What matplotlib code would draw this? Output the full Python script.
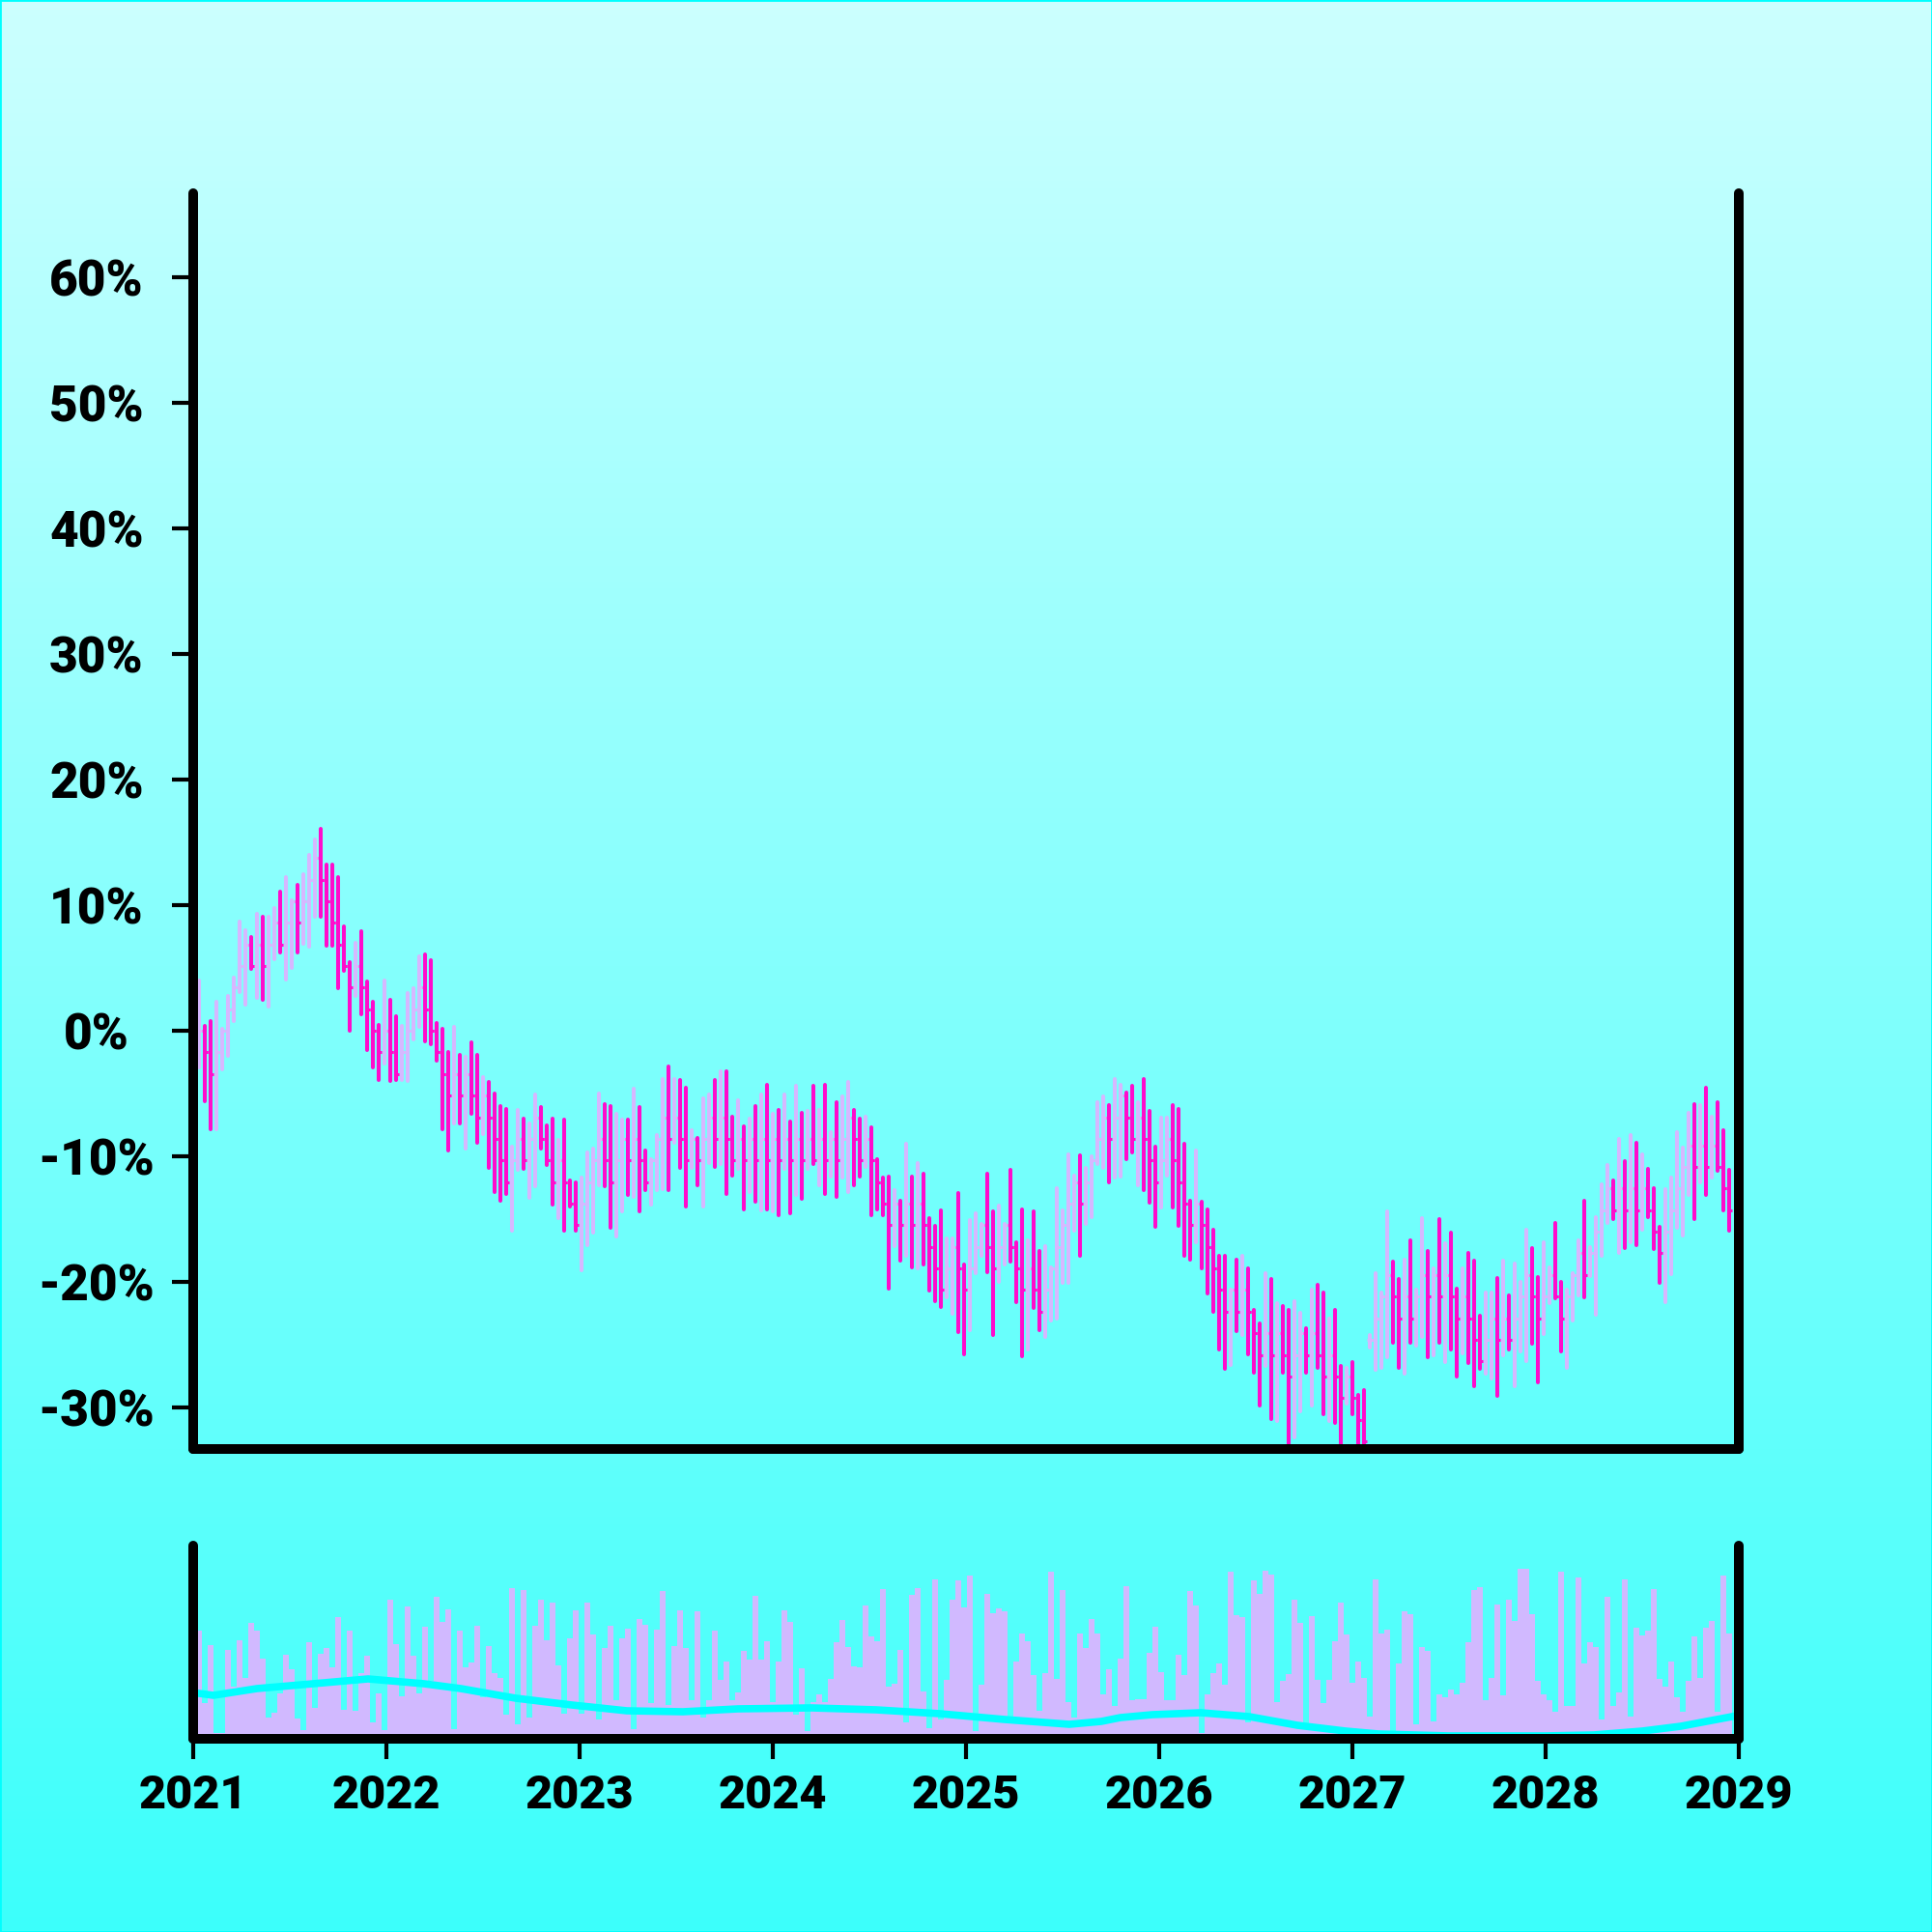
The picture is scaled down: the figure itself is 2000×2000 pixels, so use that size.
import numpy as np
import matplotlib.pyplot as plt
from matplotlib.patches import Rectangle
from matplotlib.colors import LinearSegmentedColormap

plt.rcParams['font.family'] = ['Roboto', 'Liberation Sans', 'DejaVu Sans']
plt.rcParams['font.weight'] = 'black'

# one bar roughly every 11 days (0.03 year), first one just after new year 2021
first_bar = 2021.03
bar_step = 0.03

# closes in %, open of a bar = close of the previous one (except after the gap)
closes = [
    0.00, -1.72, -3.44, -1.72, 0.00, 1.72, 3.44, 5.16, 6.88, 5.16,
    6.88, 5.16, 6.88, 8.60, 6.88, 8.60, 10.32, 8.60, 10.32, 12.04,
    13.76, 12.04, 10.32, 8.60, 6.88, 5.16, 3.44, 5.16, 3.44, 1.72,
    0.00, -1.72, 0.00, -1.72, -3.44, -1.72, 0.00, 1.72, 3.44, 1.72,
    0.00, -1.72, -3.44, -5.16, -3.44, -5.16, -3.44, -5.16, -6.88, -5.16,
    -6.88, -8.60, -10.32, -12.04, -10.32, -8.60, -10.32, -8.60, -6.88, -8.60,
    -10.32, -12.04, -10.32, -12.04, -13.76, -15.48, -13.76, -12.04, -10.32, -8.60,
    -10.32, -12.04, -10.32, -8.60, -10.32, -8.60, -10.32, -12.04, -10.32, -8.60,
    -6.88, -8.60, -6.88, -8.60, -10.32, -8.60, -10.32, -8.60, -6.88, -8.60,
    -6.88, -8.60, -10.32, -8.60, -10.32, -8.60, -10.32, -8.60, -10.32, -8.60,
    -10.32, -8.60, -10.32, -8.60, -10.32, -8.60, -10.32, -8.60, -10.32, -8.60,
    -10.32, -8.60, -6.88, -8.60, -10.32, -8.60, -10.32, -12.04, -13.76, -15.48,
    -13.76, -15.48, -13.76, -15.48, -13.76, -15.48, -17.20, -18.92, -20.64, -18.92,
    -17.20, -18.92, -20.64, -18.92, -17.20, -15.48, -17.20, -18.92, -17.20, -15.48,
    -17.20, -18.92, -20.64, -18.92, -20.64, -22.36, -20.64, -18.92, -17.20, -15.48,
    -13.76, -12.04, -13.76, -12.04, -10.32, -8.60, -6.88, -8.60, -6.88, -5.16,
    -6.88, -8.60, -6.88, -8.60, -10.32, -12.04, -10.32, -8.60, -10.32, -12.04,
    -13.76, -15.48, -13.76, -15.48, -17.20, -18.92, -20.64, -22.36, -20.64, -22.36,
    -20.64, -22.36, -24.08, -25.80, -24.08, -25.80, -24.08, -25.80, -27.52, -25.80,
    -24.08, -25.80, -24.08, -25.80, -27.52, -25.80, -27.52, -29.24, -27.52, -29.24,
    -30.96, -32.68, -24.60, -22.88, -21.16, -19.44, -21.16, -22.88, -21.16, -22.88,
    -21.16, -19.44, -21.16, -19.44, -21.16, -19.44, -21.16, -22.88, -21.16, -22.88,
    -24.60, -26.32, -24.60, -22.88, -24.60, -22.88, -24.60, -22.88, -21.16, -19.44,
    -21.16, -22.88, -21.16, -19.44, -21.16, -22.88, -21.16, -19.44, -17.72, -19.44,
    -17.72, -16.00, -14.28, -12.56, -14.28, -12.56, -14.28, -12.56, -14.28, -12.56,
    -14.28, -16.00, -17.72, -16.00, -14.28, -12.56, -10.84, -9.12, -10.84, -9.12,
    -10.84, -9.12, -10.84, -12.56, -14.28,
]
first_open = -1.72
gap_opens = {202: -24.60}

highs = [
    4.0, 0.4, 0.8, 2.3, 0.2, 2.8, 4.2, 8.7, 8.0, 7.5,
    9.3, 9.1, 9.1, 9.8, 11.1, 12.2, 10.4, 11.6, 12.5, 14.0,
    15.2, 16.1, 13.2, 13.2, 12.2, 8.3, 5.5, 7.0, 7.9, 3.9,
    2.3, 0.5, 4.0, 2.5, 1.2, 0.4, 3.0, 3.4, 5.9, 6.1,
    5.6, 0.6, 0.2, -1.7, 0.3, -1.9, -2.1, -0.9, -1.9, -3.7,
    -4.1, -5.0, -6.0, -6.2, -9.2, -6.3, -7.0, -7.4, -5.1, -6.1,
    -7.5, -7.0, -8.65, -7.1, -11.9, -12.1, -11.7, -9.7, -9.4, -5.0,
    -5.8, -6.0, -6.6, -7.1, -7.1, -4.6, -6.05, -9.5, -10.2, -8.3,
    -3.85, -2.85, -3.8, -3.9, -4.5, -7.95, -8.5, -5.4, -5.1, -3.9,
    -3.2, -3.2, -6.8, -5.5, -7.6, -7.0, -6.0, -5.1, -4.3, -6.6,
    -6.3, -5.1, -7.2, -4.4, -6.5, -6.4, -4.4, -6.3, -4.3, -8.05,
    -5.7, -5.25, -4.1, -6.3, -7.0, -6.85, -7.7, -10.2, -11.7, -11.6,
    -12.7, -13.5, -9.0, -11.6, -10.5, -11.4, -14.9, -15.5, -14.3, -16.5,
    -16.5, -12.9, -18.6, -15.1, -14.55, -15.4, -11.4, -14.4, -13.9, -15.4,
    -11.1, -16.8, -14.2, -16.7, -14.4, -17.5, -17.15, -18.8, -12.5, -14.3,
    -9.8, -11.5, -9.95, -10.9, -10.0, -5.7, -5.2, -5.95, -3.85, -4.3,
    -4.9, -4.4, -5.7, -3.8, -6.4, -9.2, -6.9, -6.9, -5.95, -6.2,
    -9.0, -13.5, -9.5, -13.6, -14.2, -15.8, -17.9, -17.95, -20.6, -18.2,
    -17.95, -18.95, -22.25, -23.3, -19.3, -19.75, -21.7, -21.95, -22.25, -21.5,
    -22.45, -23.7, -20.6, -20.2, -20.8, -22.95, -22.25, -26.7, -26.8, -26.35,
    -29.0, -28.6, -24.2, -19.3, -20.8, -14.4, -18.4, -19.75, -18.2, -16.7,
    -20.6, -14.9, -17.5, -18.95, -15.0, -16.9, -16.1, -20.5, -18.95, -17.7,
    -18.3, -22.7, -20.8, -20.8, -19.65, -18.3, -21.1, -18.5, -20.0, -15.8,
    -17.3, -19.6, -16.8, -18.8, -15.3, -20.0, -20.6, -19.3, -16.7, -13.5,
    -17.25, -14.8, -12.2, -10.7, -11.95, -8.6, -10.4, -8.3, -8.9, -9.8,
    -11.0, -12.5, -15.6, -12.6, -11.7, -8.1, -9.3, -6.5, -5.8, -5.9,
    -4.5, -6.85, -5.7, -7.95, -11.1,
]

lows = [
    -2.9, -5.6, -7.8, -7.8, -3.1, -2.0, 0.8, 3.1, 2.05, 4.9,
    2.6, 2.5, 1.9, 5.7, 6.2, 4.1, 5.0, 6.2, 6.9, 6.7,
    9.1, 9.1, 6.8, 6.8, 3.4, 4.8, 0.0, 2.8, 1.3, -1.5,
    -2.9, -3.9, -2.6, -4.0, -3.9, -3.9, -4.0, -0.7, 0.3, -0.8,
    -1.1, -2.4, -7.8, -9.5, -7.4, -7.4, -9.4, -6.6, -8.9, -8.2,
    -10.9, -12.8, -13.5, -13.0, -15.9, -11.1, -11.0, -13.3, -12.4, -9.4,
    -10.7, -13.8, -14.9, -15.9, -14.0, -15.9, -19.1, -17.1, -16.1, -12.3,
    -12.4, -15.7, -16.4, -14.4, -13.05, -13.2, -14.4, -12.7, -13.85, -12.7,
    -12.6, -12.7, -8.9, -10.9, -14.0, -10.9, -12.3, -14.0, -10.5, -10.8,
    -10.6, -13.0, -11.5, -11.0, -14.2, -12.8, -13.6, -14.3, -14.2, -14.4,
    -14.65, -11.0, -14.55, -13.1, -13.4, -11.0, -10.6, -12.3, -13.0, -11.6,
    -13.2, -11.7, -12.8, -12.3, -11.6, -10.8, -14.65, -14.2, -14.65, -20.55,
    -17.15, -18.3, -17.95, -18.8, -18.9, -18.6, -20.7, -21.5, -22.0, -21.2,
    -22.5, -24.0, -25.75, -23.8, -19.3, -17.95, -19.2, -24.25, -20.0, -18.6,
    -18.4, -21.6, -25.9, -25.4, -22.1, -23.8, -24.4, -23.05, -22.95, -20.1,
    -20.1, -15.9, -17.9, -15.4, -14.8, -10.6, -10.9, -12.05, -11.7, -11.6,
    -10.2, -9.7, -12.3, -12.7, -13.7, -15.6, -14.1, -11.5, -14.1, -15.5,
    -17.9, -18.2, -16.8, -18.95, -20.9, -22.35, -25.4, -26.95, -26.6, -23.9,
    -24.2, -25.75, -27.2, -29.8, -26.7, -30.9, -31.1, -27.2, -34.5, -32.4,
    -30.3, -27.2, -29.8, -26.8, -30.5, -31.1, -31.2, -34.5, -29.7, -30.5,
    -35.0, -35.5, -25.2, -27.0, -26.85, -26.0, -24.8, -26.8, -27.3, -24.8,
    -25.1, -24.4, -26.0, -25.8, -24.8, -26.4, -25.4, -27.5, -25.65, -26.45,
    -28.3, -26.95, -27.3, -27.7, -29.1, -25.8, -25.4, -28.3, -25.55, -26.3,
    -24.95, -28.0, -24.15, -21.7, -21.3, -25.55, -26.8, -23.05, -21.1, -21.2,
    -19.5, -22.6, -17.95, -15.3, -15.0, -17.7, -17.3, -16.8, -17.05, -15.8,
    -14.8, -17.4, -20.1, -21.6, -19.4, -15.7, -16.3, -13.1, -15.0, -12.1,
    -13.05, -11.7, -11.15, -14.3, -15.95,
]

volumes = [
    112, 37, 97, 6, 6, 92, 54, 102, 63, 120,
    112, 83, 22, 27, 47, 87, 72, 21, 9, 100,
    32, 88, 94, 74, 126, 30, 112, 29, 68, 86,
    17, 47, 9, 144, 98, 44, 137, 86, 47, 116,
    60, 147, 121, 134, 10, 112, 74, 79, 117, 43,
    96, 68, 63, 25, 156, 15, 154, 22, 117, 144,
    102, 141, 76, 26, 104, 133, 26, 141, 108, 20,
    94, 117, 40, 104, 114, 10, 124, 118, 37, 113,
    153, 35, 96, 133, 94, 40, 132, 22, 40, 112,
    61, 80, 40, 48, 91, 82, 148, 82, 101, 38,
    80, 133, 121, 25, 73, 8, 38, 46, 38, 62,
    100, 123, 95, 75, 74, 138, 106, 101, 155, 54,
    57, 92, 17, 149, 156, 49, 11, 165, 20, 61,
    144, 164, 136, 169, 8, 56, 150, 130, 135, 132,
    23, 80, 109, 101, 66, 29, 68, 173, 62, 154,
    38, 22, 109, 94, 124, 109, 46, 72, 34, 83,
    158, 40, 41, 41, 89, 116, 69, 40, 40, 87,
    66, 153, 138, 6, 46, 68, 78, 56, 173, 128,
    126, 17, 164, 150, 174, 170, 38, 60, 67, 144,
    120, 14, 127, 61, 37, 61, 101, 141, 108, 58,
    80, 63, 23, 165, 109, 113, 5, 78, 132, 129,
    15, 95, 91, 18, 46, 43, 51, 46, 58, 100,
    154, 157, 40, 63, 139, 45, 144, 122, 176, 176,
    129, 60, 46, 40, 28, 173, 34, 34, 167, 78,
    100, 95, 20, 147, 34, 48, 165, 23, 115, 107,
    112, 155, 62, 54, 80, 43, 28, 60, 106, 63,
    115, 122, 28, 169, 109,
]

# smoothed volume line, read at a handful of points
vol_ma_x = [2021.03, 2021.105, 2021.33, 2021.62, 2021.905, 2022.195, 2022.385,
            2022.67, 2022.96, 2023.245, 2023.535, 2023.82, 2024.2, 2024.535,
            2024.865, 2025.2, 2025.535, 2025.7, 2025.8, 2025.965, 2026.215,
            2026.465, 2026.715, 2026.965, 2027.135, 2027.5, 2028.0, 2028.25,
            2028.5, 2028.7, 2028.965]
vol_ma = [47, 45, 52, 57, 62, 57, 52, 42, 35, 29, 28, 31, 32, 30, 26, 20, 15,
          18, 22, 25, 27, 23, 14, 8, 5, 3, 3, 4, 8, 13, 23]

year_ticks = list(range(2021, 2030))
pct_ticks = [-30, -20, -10, 0, 10, 20, 30, 40, 50, 60]

UP = '#d6b8ff'
DOWN = '#ff0ccc'
VOL = '#d1b9ff'
LINE = '#00ffff'

fig = plt.figure(figsize=(20, 20), dpi=100)

# vertical background gradient
bg = fig.add_axes([0, 0, 1, 1], zorder=-10)
grad = np.linspace(0, 1, 256).reshape(-1, 1)
cmap = LinearSegmentedColormap.from_list('bg', ['#ccffff', '#3cfffb'])
bg.imshow(grad, aspect='auto', cmap=cmap, extent=[0, 1, 0, 1], origin='upper')
bg.axis('off')
fig.patches.append(Rectangle((0, 0), 1, 1, transform=fig.transFigure,
                             fill=False, edgecolor='#00ffff', linewidth=2))

ax = fig.add_axes([0.1, 0.25, 0.8, 0.65])
vax = fig.add_axes([0.1, 0.1, 0.8, 0.1])

n = len(closes)
x = first_bar + bar_step * np.arange(n)
opens = [first_open] + closes[:-1]
for i, v in gap_opens.items():
    opens[i] = v
up = np.array(closes) >= np.array(opens)
colors = np.where(up, UP, DOWN)

# up bars first, down bars on top
order = np.argsort(~up, kind='stable')
xs = x[order]
cs = colors[order]
ax.vlines(xs, np.array(lows)[order], np.array(highs)[order], colors=cs,
          linewidth=2.9, capstyle='round')
half = bar_step / 2
ax.hlines(np.array(opens)[order], xs - half, xs, colors=cs, linewidth=2.2)
ax.hlines(np.array(closes)[order], xs, xs + half, colors=cs, linewidth=2.2)

vax.bar(x, volumes, width=bar_step, color=VOL, linewidth=0)
vax.plot(vol_ma_x, vol_ma, color=LINE, linewidth=5.5)

ax.set_ylim(-33.3, 66.7)
vax.set_ylim(0, 200)

for a in (ax, vax):
    a.set_facecolor('none')
    a.set_xlim(2021, 2029)
    a.spines['top'].set_visible(False)
    for s in ('left', 'right', 'bottom'):
        a.spines[s].set_linewidth(7.2)
        a.spines[s].set_capstyle('round')

ax.set_xticks([])
ax.set_yticks(pct_ticks)
ax.set_yticklabels([f'{t}%' for t in pct_ticks])
ax.tick_params(axis='y', length=16, width=3, pad=56, labelsize=37)
for lbl in ax.get_yticklabels():
    lbl.set_horizontalalignment('center')

vax.set_yticks([])
vax.set_xticks(year_ticks)
vax.set_xticklabels([str(y) for y in year_ticks])
vax.tick_params(axis='x', length=15, width=3, pad=11, labelsize=35)

fig.savefig('out.png', dpi=100)
